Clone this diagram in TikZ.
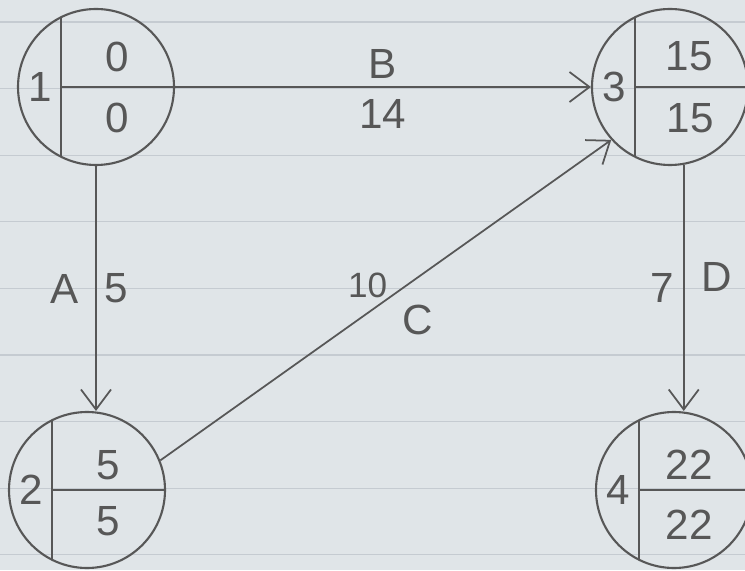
\documentclass[tikz,border=0pt]{standalone}
\usepackage{fontspec}
\setmainfont{Liberation Sans}
\usepackage{tikz}
\usetikzlibrary{positioning,calc,arrows.meta}
\definecolor{ink}{HTML}{575757}
\definecolor{paper}{HTML}{E0E5E8}
\definecolor{rule}{HTML}{C5CBD1}

\begin{document}
\begin{tikzpicture}[->, >={Straight Barb[length=4mm,width=6mm]}, ink, line width=1pt, font=\fontsize{24}{28}\selectfont, main/.style = {circle, draw, fill=none, minimum size=3.12cm, inner sep=0pt, line width=1.2pt}, split/.style={-, line width=1pt}, every edge/.append style={ink, line width=1pt}]

\fill[paper] (0,0) rectangle (14.9,11.4);
\useasboundingbox (0,0) rectangle (14.9,11.4);
\clip (0,0) rectangle (14.9,11.4);
\foreach \k in {0,...,8}
    \draw[-, rule, line width=0.7pt] (0,10.96-1.332*\k) -- (14.9,10.96-1.332*\k);

\begin{scope}[shift = {(1.92,9.66)}] %event 1
\node[main] (1) at (0,0) {};
\draw[split] (-0.7,1.40) -- (-0.7,-1.40);
\draw[split] (-0.7,0) -- (1.east);
\node (1n) at (-1.12,0) {1};
\node (1e) at (0.43,0.6) {0};
\node (1l) at (0.43,-0.62) {0};
\end{scope}

\begin{scope}[shift = {(1.74,1.6)}] %event 2
\node[main] (2) at (0,0) {};
\draw[split] (-0.7,1.40) -- (-0.7,-1.40);
\draw[split] (-0.7,0) -- (2.east);
\node (2n) at (-1.12,0) {2};
\node (2e) at (0.43,0.5) {5};
\node (2l) at (0.43,-0.62) {5};
\end{scope}

\begin{scope}[shift = {(13.4,9.66)}] %event 3
\node[main] (3) at (0,0) {};
\draw[split] (-0.7,1.40) -- (-0.7,-1.40);
\draw[split] (-0.7,0) -- (3.east);
\node (3n) at (-1.12,0) {3};
\node (3e) at (0.38,0.62) {15};
\node (3l) at (0.4,-0.62) {15};
\end{scope}

\begin{scope}[shift = {(13.48,1.6)}] %event 4
\node[main] (4) at (0,0) {};
\draw[split] (-0.7,1.40) -- (-0.7,-1.40);
\draw[split] (-0.7,0) -- (4.east);
\node (4n) at (-1.12,0) {4};
\node (4e) at (0.3,0.5) {22};
\node (4l) at (0.3,-0.7) {22};
\end{scope}

\path (1) edge node[above=1pt] {B} node[below=3pt] {14} (3)
    (1.south) edge node[left=6pt] {A} node[right=1pt] {5} (1.south |- 2.north)
    (2.22) edge node[pos=0.46, above=5pt, font=\fontsize{20}{24}\selectfont] {10} node[pos=0.57, below=12pt] {C} (3.222)
    (3.-80) edge node[left=2pt] {7} node[right=6pt, yshift=6pt] {D} (3.-80 |- 4.north);
\end{tikzpicture}
\end{document}
